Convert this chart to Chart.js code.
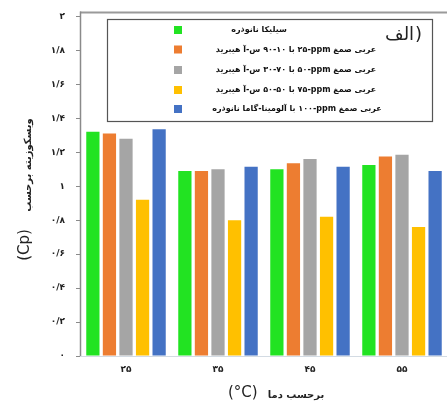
<!DOCTYPE html>
<html>
<head>
<meta charset="utf-8">
<script src="https://cdn.jsdelivr.net/npm/chart.js@4.4.1/dist/chart.umd.min.js"></script>
<style>
  html, body { margin: 0; padding: 0; background: #ffffff; overflow: hidden; }
  #wrap { width: 448px; height: 405px; }
</style>
</head>
<body>
<div id="wrap"><canvas id="c" width="448" height="405"></canvas></div>
<script>
// Temperature categories (°C)
const temps = ['۲۵', '۳۵', '۴۵', '۵۵'];
// Viscosity axis tick labels, 0 to 2 in steps of 0.2
const yTickLabels = ['۰', '۰/۲', '۰/۴', '۰/۶', '۰/۸', '۱', '۱/۲', '۱/۴', '۱/۶', '۱/۸', '۲'];

// Series names
const seriesNames = [
  'نانوذره سیلیکا',
  'هیبرید آ-س ۹۰-۱۰ با ۲۵-ppm صمغ عربی',
  'هیبرید آ-س ۳۰-۷۰ با ۵۰-ppm صمغ عربی',
  'هیبرید آ-س ۵۰-۵۰ با ۷۵-ppm صمغ عربی',
  'نانوذره گاما-آلومینا با ۱۰۰-ppm صمغ عربی'
];

// Viscosity (cP) per temperature
const silica      = [1.32, 1.09, 1.10, 1.125];
const hybrid9010  = [1.31, 1.09, 1.135, 1.175];
const hybrid7030  = [1.28, 1.10, 1.16, 1.185];
const hybrid5050  = [0.92, 0.80, 0.82, 0.76];
const alumina     = [1.335, 1.115, 1.115, 1.09];

const colors = ['#22e322', '#ed7d31', '#a5a5a5', '#ffc000', '#4472c4'];
const seriesValues = [silica, hybrid9010, hybrid7030, hybrid5050, alumina];

const AR_FONT = '"DejaVu Sans", sans-serif';

// Lays the words of a label out left to right, one piece at a time,
// centred on cx (separators: spaces and hyphens)
function drawWordsLtr(ctx, text, cx, y) {
  const pieces = text.split(/([ \-])/).filter(p => p.length);
  const widths = pieces.map(p => ctx.measureText(p).width);
  const total = widths.reduce((s, w) => s + w, 0);
  let x = cx - total / 2;
  ctx.textAlign = 'left';
  pieces.forEach((p, i) => {
    if (p !== ' ') ctx.fillText(p, x, y);
    x += widths[i];
  });
}

const decorations = {
  id: 'decorations',
  afterDraw(chart) {
    const ctx = chart.ctx;
    const a = chart.chartArea;
    ctx.save();

    // frame: top edge and left axis
    ctx.strokeStyle = '#9a9a9a';
    ctx.lineWidth = 2;
    ctx.beginPath();
    ctx.moveTo(a.left, a.top - 4);
    ctx.lineTo(chart.width, a.top - 4);
    ctx.stroke();
    ctx.lineWidth = 1.5;
    ctx.strokeStyle = '#8a8a8a';
    ctx.beginPath();
    ctx.moveTo(a.left + 0.5, a.top - 5);
    ctx.lineTo(a.left + 0.5, a.bottom);
    ctx.stroke();

    // legend box
    const bx = 107, by = 19, bw = 325, bh = 102;
    ctx.fillStyle = '#ffffff';
    ctx.fillRect(bx, by, bw, bh);
    ctx.strokeStyle = '#555555';
    ctx.lineWidth = 1.2;
    ctx.strokeRect(bx + 0.5, by + 0.5, bw, bh);

    const rowY = [30, 49.5, 70, 90, 109];
    const textX = [259, 296, 296, 296, 297];
    ctx.font = 'bold 8px ' + AR_FONT;
    ctx.textBaseline = 'middle';
    chart.data.datasets.forEach((ds, i) => {
      ctx.fillStyle = ds.backgroundColor;
      ctx.fillRect(174, rowY[i] - 4, 8, 8);
      ctx.fillStyle = '#111111';
      drawWordsLtr(ctx, ds.label, textX[i], rowY[i]);
    });

    // panel tag
    ctx.font = '18px ' + AR_FONT;
    ctx.fillStyle = '#222222';
    ctx.textAlign = 'left';
    const tagW = ctx.measureText('الف').width;
    ctx.fillText('الف', 385, 35);
    ctx.fillText(')', 385 + tagW + 1, 35);

    // x axis title
    ctx.textBaseline = 'middle';
    ctx.textAlign = 'left';
    ctx.font = '15px "DejaVu Sans", sans-serif';
    ctx.fillStyle = '#222222';
    ctx.fillText('(°C)', 228, 393);
    ctx.font = 'bold 10px ' + AR_FONT;
    drawWordsLtr(ctx, 'دما برحسب', 296, 395);

    // y axis title (rotated)
    ctx.save();
    ctx.translate(25, 245);
    ctx.rotate(-Math.PI / 2);
    ctx.textAlign = 'center';
    ctx.font = '15px "DejaVu Sans", sans-serif';
    ctx.fillText('(Cp)', 0, 0);
    ctx.restore();
    ctx.save();
    ctx.translate(28, 165);
    ctx.rotate(-Math.PI / 2);
    ctx.textAlign = 'center';
    ctx.font = 'bold 10px ' + AR_FONT;
    ctx.fillText('ویسکوزیته برحسب', 0, 0);
    ctx.restore();

    ctx.restore();
  }
};

new Chart(document.getElementById('c'), {
  type: 'bar',
  data: {
    labels: temps,
    datasets: seriesNames.map((name, i) => ({
      label: name,
      data: seriesValues[i],
      backgroundColor: colors[i],
      borderWidth: 0,
      barPercentage: 0.8,
      categoryPercentage: 0.9
    }))
  },
  options: {
    responsive: false,
    animation: false,
    devicePixelRatio: 1,
    layout: { padding: { top: 14, right: 0, bottom: 0, left: 0 } },
    plugins: {
      legend: { display: false },
      tooltip: { enabled: false },
      title: { display: false }
    },
    scales: {
      x: {
        grid: { display: false, drawTicks: false },
        border: { display: true, color: '#d3dbe3', width: 1 },
        ticks: {
          padding: 8,
          color: '#222222',
          font: { family: AR_FONT, size: 9, weight: 'bold' }
        },
        afterFit(scale) { scale.height = 49; }
      },
      y: {
        min: 0,
        max: 2,
        grid: { drawOnChartArea: false, drawTicks: true, tickLength: 4, color: '#8a8a8a' },
        border: { display: false },
        ticks: {
          stepSize: 0.2,
          padding: 11,
          color: '#222222',
          font: { family: AR_FONT, size: 9, weight: 'bold' },
          callback: (v, i) => yTickLabels[i]
        },
        afterFit(scale) { scale.width = 80; }
      }
    }
  },
  plugins: [decorations]
});
</script>
</body>
</html>
